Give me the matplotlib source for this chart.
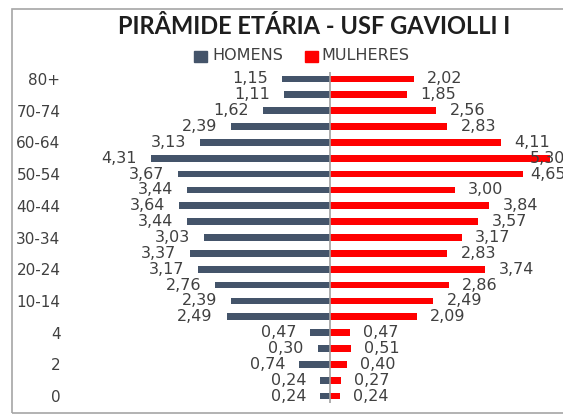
import matplotlib.pyplot as plt
from matplotlib.patches import Rectangle

# faixas etárias (de baixo para cima)
faixas = ["0", "1", "2", "3", "4", "5-9", "10-14", "15-19", "20-24", "25-29",
          "30-34", "35-39", "40-44", "45-49", "50-54", "55-59", "60-64",
          "65-69", "70-74", "75-79", "80+"]
homens = [0.24, 0.24, 0.74, 0.30, 0.47, 2.49, 2.39, 2.76, 3.17, 3.37,
          3.03, 3.44, 3.64, 3.44, 3.67, 4.31, 3.13, 2.39, 1.62, 1.11, 1.15]
mulheres = [0.24, 0.27, 0.40, 0.51, 0.47, 2.09, 2.49, 2.86, 3.74, 2.83,
            3.17, 3.57, 3.84, 3.00, 4.65, 5.30, 4.11, 2.83, 2.56, 1.85, 2.02]

AZUL = "#44546A"
VERMELHO = "#FF0000"
CINZA_TXT = "#404040"
LIMITE_ROTULO = 4.5  # Excel empurra o rótulo para dentro da área do gráfico

plt.rcParams["font.family"] = "DejaVu Sans"

W, H = 563, 416
fig = plt.figure(figsize=(W / 100, H / 100), dpi=100)

# moldura da área do gráfico (cortada à direita)
fig.patches.append(Rectangle((12 / W, 1 - 413 / H), 600 / W, (413 - 9) / H,
                             transform=fig.transFigure, fill=False,
                             edgecolor="#A6A6A6", linewidth=1.2))

x0, x1 = 66, W
escala = 41.5
ax = fig.add_axes([x0 / W, 1 - 403 / H, (x1 - x0) / W, (403 - 72) / H])
ax.set_xlim(-(330 - x0) / escala, (x1 - 330) / escala)
ax.set_ylim(-0.44, len(faixas) - 1 + 0.44)

pos = list(range(len(faixas)))
ax.barh(pos, [-v for v in homens], height=0.42, color=AZUL)
ax.barh(pos, mulheres, height=0.42, color=VERMELHO)
ax.axvline(0, color="#A0A0A0", linewidth=1.2)

fmt = lambda v: f"{v:.2f}".replace(".", ",")
for p, v in zip(pos, homens):
    ax.annotate(fmt(v), (-v, p), xytext=(-10, 0), textcoords="offset points",
                ha="right", va="center", fontsize=11.5, color=CINZA_TXT)
for p, v in zip(pos, mulheres):
    ax.annotate(fmt(v), (min(v, LIMITE_ROTULO), p), xytext=(9.5, 0),
                textcoords="offset points", ha="left", va="center",
                fontsize=11.5, color=CINZA_TXT)

ax.set_yticks(pos[::-2])
ax.set_yticklabels(faixas[::-2], fontsize=11, color=CINZA_TXT)
ax.tick_params(axis="y", length=0, pad=4)
ax.set_xticks([])
for s in ax.spines.values():
    s.set_visible(False)

fig.text(314 / W, 1 - 26 / H, "PIRÂMIDE ETÁRIA - USF GAVIOLLI I",
         ha="center", va="center", fontsize=17, fontweight="bold",
         family="Lato", color="#1E1E1E")

# legenda
ly = 1 - 56 / H
fig.patches.append(Rectangle((194 / W, ly - 6 / H), 13 / W, 11 / H,
                             transform=fig.transFigure, color=AZUL))
fig.text(212 / W, ly, "HOMENS", ha="left", va="center", fontsize=11.5,
         color=CINZA_TXT)
fig.patches.append(Rectangle((305 / W, ly - 6 / H), 13 / W, 11 / H,
                             transform=fig.transFigure, color=VERMELHO))
fig.text(321 / W, ly, "MULHERES", ha="left", va="center", fontsize=11.5,
         color=CINZA_TXT)

fig.savefig("out.png", dpi=100)
